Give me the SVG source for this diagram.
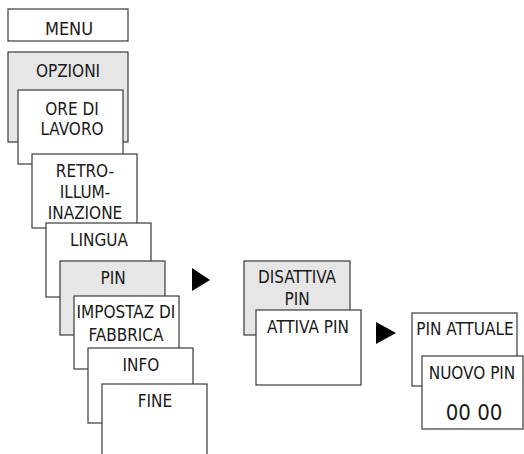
<svg xmlns="http://www.w3.org/2000/svg" width="524" height="454" viewBox="0 0 524 454">
<style>
.b{fill:#fff;stroke:#3a3a3a;stroke-width:1.2}
.g{fill:#e6e6e6;stroke:#3a3a3a;stroke-width:1.2}
.t text{fill:#1a1a1a;text-anchor:middle}
.big{font-size:22px}
.arr{fill:#000}
</style>
<rect width="524" height="454" fill="#fff"/>
<g class="t" font-family="DejaVu Sans Condensed" font-size="17">
<g id="menu"><rect class="b" x="8" y="9" width="120" height="32"/><text x="69" y="35" font-size="18">MENU</text></g>
<g id="opzioni"><rect class="g" x="8" y="52" width="120" height="90"/><text x="68" y="77">OPZIONI</text></g>
<g id="ore"><rect class="b" x="18" y="90" width="105" height="74"/><text x="72" y="115">ORE DI</text><text x="72" y="135">LAVORO</text></g>
<g id="retro"><rect class="b" x="32" y="154" width="105" height="74"/><text x="85" y="177">RETRO-</text><text x="85" y="198">ILLUM-</text><text x="85" y="219">INAZIONE</text></g>
<g id="lingua"><rect class="b" x="46" y="223" width="105" height="74"/><text x="99" y="246">LINGUA</text></g>
<g id="pin"><rect class="g" x="60" y="261" width="105" height="74"/><text x="113" y="284">PIN</text></g>
<g id="impostaz"><rect class="b" x="74" y="296" width="105" height="73"/><text x="126" y="318">IMPOSTAZ DI</text><text x="126" y="341">FABBRICA</text></g>
<g id="info"><rect class="b" x="88" y="348" width="105" height="75"/><text x="141" y="371">INFO</text></g>
<g id="fine"><rect class="b" x="102" y="384" width="105" height="80"/><text x="155" y="407">FINE</text></g>
<g id="disattiva"><rect class="g" x="244" y="261" width="106" height="74"/><text x="297" y="283">DISATTIVA</text><text x="297" y="305">PIN</text></g>
<g id="attiva"><rect class="b" x="256" y="310" width="105" height="75"/><text x="308" y="333">ATTIVA PIN</text></g>
<g id="attuale"><rect class="b" x="412" y="313" width="105" height="73"/><text x="465" y="335">PIN ATTUALE</text></g>
<g id="nuovo"><rect class="b" x="422" y="356" width="101" height="73"/><text x="472" y="379">NUOVO PIN</text><text class="big" x="474" y="420">00 00</text></g>
</g>
<g id="connectors">
<polygon class="arr" points="192,268 192,291 210,280"/>
<polygon class="arr" points="376,322 376,344 396,333"/>
</g>
</svg>
